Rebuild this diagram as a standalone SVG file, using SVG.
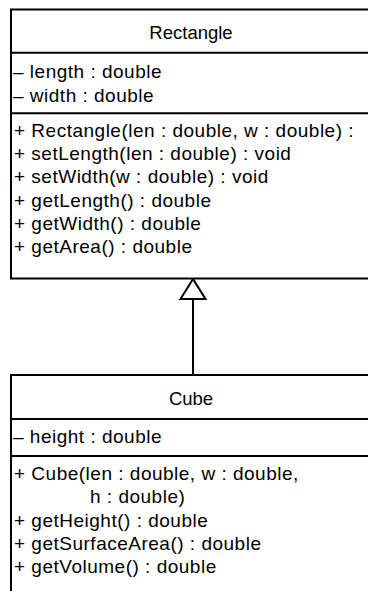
<svg xmlns="http://www.w3.org/2000/svg" width="368" height="591" viewBox="0 0 368 591">
<style>
.box{fill:#fff;stroke:#000;stroke-width:2}
.sep{stroke:#000;stroke-width:2}
text{font-family:"Liberation Sans",Arial,sans-serif;font-size:19px;letter-spacing:0.5px;fill:#000}
.t{text-anchor:middle;font-size:18.5px;letter-spacing:0}
.conn{stroke:#000;stroke-width:2;fill:none}
</style>
<rect width="368" height="591" fill="#fff"/>
<g id="connectors">
<line class="conn" x1="193" y1="299" x2="193" y2="375"/>
<polygon class="conn" fill="#fff" points="193,279 180.5,299 205.5,299"/>
</g>
<g id="Rectangle">
<rect class="box" x="11" y="9.5" width="380" height="269"/>
<line class="sep" x1="11" y1="52.7" x2="391" y2="52.7"/>
<line class="sep" x1="11" y1="113.3" x2="391" y2="113.3"/>
<text class="t" x="191" y="39">Rectangle</text>
<text x="13" y="78">– length : double</text>
<text x="13" y="101.7">– width : double</text>
<text x="14" y="137">+ Rectangle(len : double, w : double) :</text>
<text x="14" y="160">+ setLength(len : double) : void</text>
<text x="14" y="183.3">+ setWidth(w : double) : void</text>
<text x="14" y="206.7">+ getLength() : double</text>
<text x="14" y="230">+ getWidth() : double</text>
<text x="14" y="253.3">+ getArea() : double</text>
</g>
<g id="Cube">
<rect class="box" x="11" y="375" width="380" height="230"/>
<line class="sep" x1="11" y1="419" x2="391" y2="419"/>
<line class="sep" x1="11" y1="456" x2="391" y2="456"/>
<text class="t" x="191" y="405">Cube</text>
<text x="13" y="443">– height : double</text>
<text x="14" y="480">+ Cube(len : double, w : double,</text>
<text x="90" y="503.3">h : double)</text>
<text x="14" y="526.7">+ getHeight() : double</text>
<text x="14" y="550">+ getSurfaceArea() : double</text>
<text x="14" y="573.3">+ getVolume() : double</text>
</g>
</svg>
